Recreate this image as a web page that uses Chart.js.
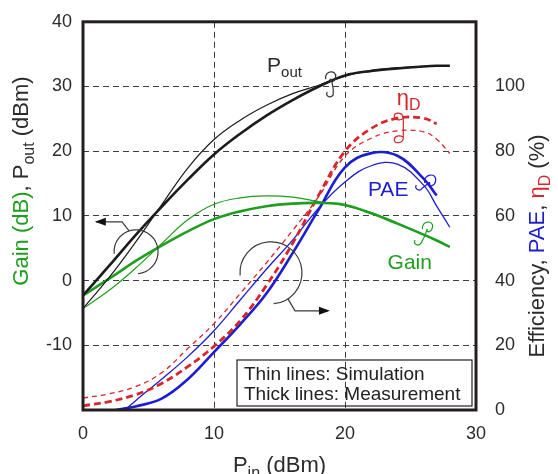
<!DOCTYPE html>
<html>
<head>
<meta charset="utf-8">
<script src="https://cdn.jsdelivr.net/npm/chart.js@4.4.1/dist/chart.umd.min.js"></script>
<style>
  html, body { margin: 0; padding: 0; background: #fff; }
</style>
</head>
<body>
<canvas id="chart" width="558" height="474"></canvas>
<script>
// --- DATA ---
const pin = [0, 2, 4, 6, 8, 10, 12, 14, 16, 18, 20, 22, 24, 26, 27, 28];

// left axis: Gain (dB), Pout (dBm)
const poutSim  = [-4.3, 0.5, 5.9, 11.7, 17.4, 21.8, 24.8, 27.1, 28.9, 30.2, 31.6, 32.5, 32.9, 33.1, 33.2, 33.2];
const poutMeas = [-2.3, 2.3, 7.0, 11.4, 15.6, 19.5, 22.7, 25.5, 27.9, 30.0, 31.7, 32.4, 32.8, 33.1, 33.2, 33.2];
const gainSim  = [-4.3, -1.5, 1.9, 5.7, 9.4, 11.8, 12.8, 13.1, 12.9, 12.2, 11.6, 10.5, 8.9, 7.1, 6.2, 5.2];
const gainMeas = [-2.3, 0.3, 3.0, 5.4, 7.6, 9.5, 10.7, 11.5, 11.9, 12.0, 11.7, 10.4, 8.8, 7.1, 6.2, 5.2];

// right axis: Efficiency (%)
const drainSim  = [3.7, 5.0, 7.2, 11.5, 19.0, 26.7, 36.0, 45.5, 55.5, 66.0, 78.5, 84.0, 86.3, 86.0, 83.7, 79.3];
const drainMeas = [1.3, 2.6, 4.7, 8.2, 13.4, 19.7, 27.6, 38.5, 51.5, 66.5, 80.0, 87.0, 90.2, 90.2, 88.5, null];
const paeSim    = [-13, -4.5, 2.8, 9.5, 16.5, 24.5, 34.0, 43.5, 52.5, 62.5, 70.5, 75.5, 76.0, 69.5, 63.0, 56.5];
const paeMeas   = [-5, -0.6, 1.1, 3.5, 9.5, 17.9, 26.5, 36.0, 48.5, 62.0, 75.0, 79.4, 78.6, 71.5, 66.3, null];

const xTicks = [0, 10, 20, 30];
const leftTicks = [-10, 0, 10, 20, 30, 40];
const rightTicks = [0, 20, 40, 60, 80, 100];

// --- STYLE ---
const FONT = "'Liberation Sans', Arial, sans-serif";
const BLACK = '#1c1c1c';
const GREEN = '#1f9e1f';
const RED = '#d6262b';
const BLUE = '#1d1dd2';
const TEXT = '#2b2b2b';

const pts = arr => pin.map((x, i) => ({ x: x, y: arr[i] })).filter(p => p.y !== null);

const line = (arr, color, width, axis, dash) => ({
  data: pts(arr),
  borderColor: color,
  borderWidth: width,
  borderDash: dash || [],
  yAxisID: axis,
  pointRadius: 0,
  tension: 0.4,
  fill: false
});

// --- helpers para el texto con subindices ---
function rich(ctx, parts, x, y, size) {
  parts.forEach(p => {
    const s = p.sub ? Math.round(size * 0.72) : size;
    ctx.font = s + 'px ' + FONT;
    ctx.fillStyle = p.c;
    ctx.fillText(p.t, x, y + (p.sub ? size * 0.25 : 0));
    x += ctx.measureText(p.t).width;
  });
  return x;
}
function richWidth(ctx, parts, size) {
  let w = 0;
  parts.forEach(p => {
    ctx.font = (p.sub ? Math.round(size * 0.72) : size) + 'px ' + FONT;
    w += ctx.measureText(p.t).width;
  });
  return w;
}
function arrowHead(ctx, x, y, dir) {
  ctx.beginPath();
  ctx.moveTo(x, y);
  ctx.lineTo(x - dir * 11, y - 4);
  ctx.lineTo(x - dir * 11, y + 4);
  ctx.closePath();
  ctx.fill();
}
// pequeño rizo que agrupa dos curvas
function curl(ctx, cx, cy, r, tx, ty) {
  ctx.beginPath();
  ctx.moveTo(cx - r, cy + r * 0.6);
  ctx.bezierCurveTo(cx - r * 1.3, cy - r * 1.2, cx + r * 1.3, cy - r * 1.3, cx + r, cy + r * 0.2);
  ctx.bezierCurveTo(cx + r * 0.8, cy + r * 1.2, cx - r * 0.2, cy + r * 1.4, cx - r * 0.1, cy + r * 0.7);
  ctx.bezierCurveTo(cx, cy + r * 0.2, (cx + tx) / 2 + 2, (cy + ty) / 2, tx, ty);
  ctx.bezierCurveTo(tx - 3, ty + 4, tx - 8, ty + 1, tx - 6, ty - 3);
  ctx.stroke();
}

const annotations = {
  id: 'annotations',
  afterDraw(chart) {
    const ctx = chart.ctx;
    const a = chart.chartArea;
    const X = v => chart.scales.x.getPixelForValue(v);
    const Y = v => chart.scales.y.getPixelForValue(v);
    ctx.save();
    ctx.textBaseline = 'alphabetic';
    ctx.textAlign = 'left';

    // marco
    ctx.strokeStyle = '#231f20';
    ctx.lineWidth = 3;
    ctx.strokeRect(a.left, a.top, a.right - a.left, a.bottom - a.top);

    // titulos de ejes
    const leftTitle = [
      { t: 'Gain (dB)', c: GREEN }, { t: ', P', c: TEXT }, { t: 'out', c: TEXT, sub: true }, { t: ' (dBm)', c: TEXT }
    ];
    const rightTitle = [
      { t: 'Efficiency, ', c: TEXT }, { t: 'PAE', c: BLUE }, { t: ', ', c: TEXT },
      { t: 'η', c: RED }, { t: 'D', c: RED, sub: true }, { t: ' (%)', c: TEXT }
    ];
    const bottomTitle = [
      { t: 'P', c: TEXT }, { t: 'in', c: TEXT, sub: true }, { t: ' (dBm)', c: TEXT }
    ];
    let w = richWidth(ctx, leftTitle, 22);
    ctx.save();
    ctx.translate(a.left - 55, 181 + w / 2);
    ctx.rotate(-Math.PI / 2);
    rich(ctx, leftTitle, 0, 0, 22);
    ctx.restore();

    w = richWidth(ctx, rightTitle, 22);
    ctx.save();
    ctx.translate(a.right + 68, 246 + w / 2);
    ctx.rotate(-Math.PI / 2);
    rich(ctx, rightTitle, 0, 0, 22);
    ctx.restore();

    w = richWidth(ctx, bottomTitle, 22);
    rich(ctx, bottomTitle, (a.left + a.right) / 2 - w / 2, a.bottom + 62, 22);

    // etiquetas de curvas
    rich(ctx, [{ t: 'P', c: TEXT }, { t: 'out', c: TEXT, sub: true }], X(14.05), Y(32.3), 21);
    rich(ctx, [{ t: 'η', c: RED }, { t: 'D', c: RED, sub: true }], X(23.95), Y(27.2), 22);
    rich(ctx, [{ t: 'PAE', c: BLUE }], X(21.75), Y(13.15), 21);
    rich(ctx, [{ t: 'Gain', c: GREEN }], X(23.25), Y(1.85), 21);

    // rizos
    ctx.lineWidth = 1.2;
    ctx.strokeStyle = '#333';
    curl(ctx, X(18.9), Y(31.6), 5, X(19.1), Y(28.7));
    ctx.strokeStyle = GREEN;
    curl(ctx, X(26.3), Y(8.4), 5, X(25.8), Y(5.8));
    ctx.strokeStyle = BLUE;
    curl(ctx, X(26.5), Y(15.6), 5.5, X(25.9), Y(14.3));

    // llave de eta_D
    ctx.strokeStyle = RED;
    const bx = X(24.45), by0 = Y(25.5), by1 = Y(21.7);
    ctx.beginPath();
    ctx.moveTo(bx, by0 + 3);
    ctx.bezierCurveTo(bx, by0 - 4, bx - 10, by0 - 4, bx - 9, by0 + 1);
    ctx.bezierCurveTo(bx - 8, by0 + 5, bx - 3, by0 + 5, bx, by0 + 3);
    ctx.lineTo(bx, by1 - 3);
    ctx.bezierCurveTo(bx - 3, by1 - 5, bx - 8, by1 - 5, bx - 9, by1 - 1);
    ctx.bezierCurveTo(bx - 10, by1 + 4, bx, by1 + 4, bx, by1 - 3);
    ctx.stroke();

    // circulos con flecha
    ctx.strokeStyle = '#3a3a3a';
    ctx.fillStyle = '#111';
    ctx.lineWidth = 1.2;
    let cx = X(4.05), cy = Y(4.45);
    ctx.beginPath();
    ctx.arc(cx, cy, 22, 175 * Math.PI / 180, 445 * Math.PI / 180);
    ctx.stroke();
    ctx.beginPath();
    ctx.moveTo(cx - 7, cy - 21);
    ctx.lineTo(cx - 14, cy - 30);
    ctx.lineTo(X(1.0), cy - 30);
    ctx.stroke();
    arrowHead(ctx, X(0.9), cy - 30, -1);

    cx = X(14.35); cy = Y(1.2);
    ctx.beginPath();
    ctx.arc(cx, cy, 31, 175 * Math.PI / 180, 445 * Math.PI / 180);
    ctx.stroke();
    ctx.beginPath();
    ctx.moveTo(cx + 17, cy + 26);
    ctx.lineTo(cx + 24, cy + 38);
    ctx.lineTo(X(18.7), cy + 38);
    ctx.stroke();
    arrowHead(ctx, X(18.85), cy + 38, 1);

    // recuadro de leyenda
    ctx.strokeStyle = '#222';
    ctx.lineWidth = 1.2;
    ctx.strokeRect(a.right - 239, a.bottom - 50, 235, 46);
    ctx.font = '19px ' + FONT;
    ctx.fillStyle = '#222';
    ctx.fillText('Thin lines: Simulation', a.right - 232, a.bottom - 30);
    ctx.fillText('Thick lines: Measurement', a.right - 232, a.bottom - 10);
    ctx.restore();
  }
};

const gridOpts = { color: '#3d3d3d', lineWidth: 1, drawTicks: false };
const tickFont = { size: 18, family: FONT };

new Chart(document.getElementById('chart'), {
  type: 'line',
  data: {
    datasets: [
      line(poutSim, BLACK, 1.2, 'y'),
      line(poutMeas, BLACK, 2.6, 'y'),
      line(gainSim, GREEN, 1.2, 'y'),
      line(gainMeas, GREEN, 2.6, 'y'),
      line(drainSim, RED, 1.3, 'y1', [5, 4]),
      line(drainMeas, RED, 2.8, 'y1', [7, 4]),
      line(paeSim, BLUE, 1.3, 'y1'),
      line(paeMeas, BLUE, 2.6, 'y1')
    ]
  },
  options: {
    responsive: false,
    animation: false,
    layout: { padding: { top: 18 } },
    plugins: { legend: { display: false }, tooltip: { enabled: false } },
    scales: {
      x: {
        type: 'linear', min: 0, max: 30,
        afterFit: s => { s.height = 64; },
        ticks: { stepSize: 10, padding: 13, color: TEXT, font: tickFont,
          callback: v => xTicks.includes(v) ? v : '' },
        grid: gridOpts,
        border: { display: false, dash: [6, 4] }
      },
      y: {
        position: 'left', min: -20, max: 40,
        afterFit: s => { s.width = 83; },
        ticks: { stepSize: 10, padding: 11, color: TEXT, font: tickFont,
          callback: v => leftTicks.includes(v) ? v : '' },
        grid: gridOpts,
        border: { display: false, dash: [6, 4] }
      },
      y1: {
        position: 'right', min: 0, max: 120,
        afterFit: s => { s.width = 82; },
        ticks: { stepSize: 20, padding: 11, color: TEXT, font: tickFont,
          callback: v => rightTicks.includes(v) ? v : '' },
        grid: { display: false },
        border: { display: false }
      }
    }
  },
  plugins: [annotations]
});
</script>
</body>
</html>
